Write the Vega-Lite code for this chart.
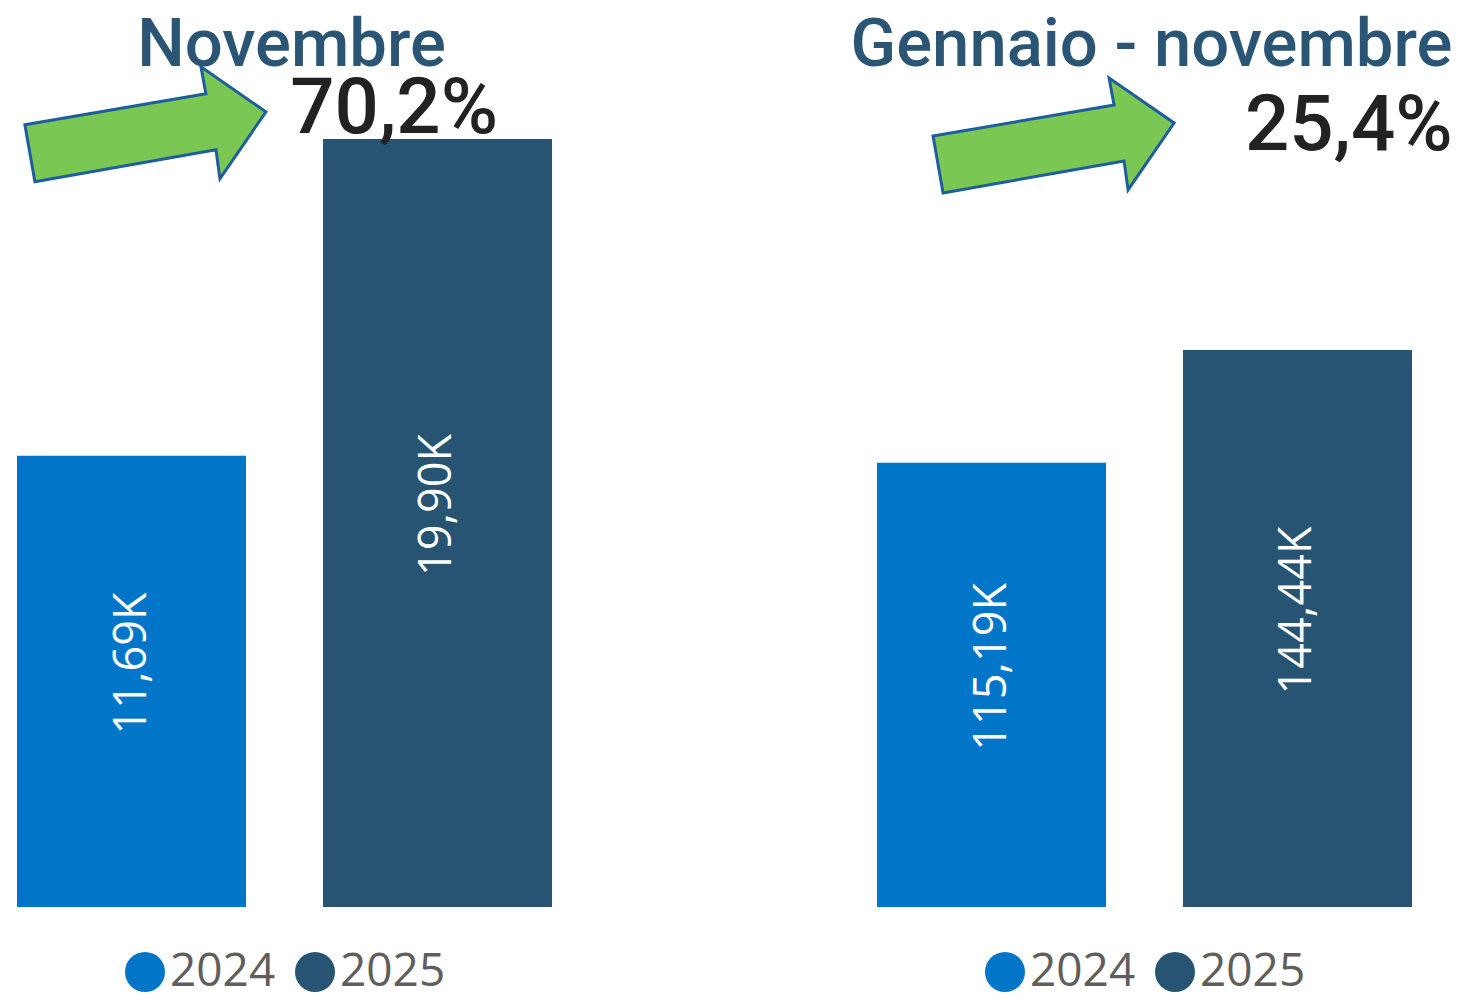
{
  "$schema": "https://vega.github.io/schema/vega-lite/v6.json",
  "autosize": {"type": "pad"},
  "padding": {"left": 17, "top": 12, "right": 0, "bottom": 0},
  "bounds": "flush",
  "spacing": 325,
  "background": "white",
  "config": {
    "view": {"stroke": null},
    "title": {"font": "Roboto", "fontSize": 67, "fontWeight": 500, "color": "#2A5574", "anchor": "middle", "baseline": "alphabetic", "offset": -20, "dx": 7},
    "legend": {
      "orient": "none", "legendX": 105, "legendY": 889, "direction": "horizontal",
      "title": null, "symbolType": "circle", "symbolSize": 1600, "symbolStrokeWidth": 0,
      "labelFont": "Open Sans", "labelFontSize": 46, "labelColor": "#605E5C",
      "labelOffset": 2, "columnPadding": 16, "padding": 0, "symbolOpacity": 1, "labelLimit": 0
    }
  },
  "datasets": {
    "bars": [
      {"periodo": "Novembre", "anno": "2024", "valore": 11.69, "etichetta": "11,69K"},
      {"periodo": "Novembre", "anno": "2025", "valore": 19.90, "etichetta": "19,90K"},
      {"periodo": "Gennaio - novembre", "anno": "2024", "valore": 115.19, "etichetta": "115,19K"},
      {"periodo": "Gennaio - novembre", "anno": "2025", "valore": 144.44, "etichetta": "144,44K"}
    ],
    "note": [
      {"periodo": "Novembre", "variazione": "70,2%", "freccia_x": 0.240, "freccia_y": 20.28, "testo_x": 0.705, "testo_y": 20.06},
      {"periodo": "Gennaio - novembre", "variazione": "25,4%", "freccia_x": 0.330, "freccia_y": 200.07, "testo_x": 0.882, "testo_y": 196.3}
    ]
  },
  "hconcat": [
    {
      "title": "Novembre",
      "width": 535,
      "height": 847,
      "layer": [
        {
          "data": {"name": "bars"},
          "transform": [{"filter": "datum.periodo === 'Novembre'"}],
          "mark": {"type": "bar"},
          "encoding": {
            "x": {"field": "anno", "type": "nominal", "axis": null, "scale": {"type": "band", "paddingInner": 0.2516, "paddingOuter": 0}},
            "y": {"field": "valore", "type": "quantitative", "axis": null, "scale": {"domain": [0, 21.947], "nice": false}},
            "color": {"field": "anno", "type": "nominal", "scale": {"domain": ["2024", "2025"], "range": ["#0176C9", "#275473"]}, "legend": {}}
          }
        },
        {
          "data": {"name": "bars"},
          "transform": [{"filter": "datum.periodo === 'Novembre'"}],
          "mark": {"type": "text", "angle": -90, "align": "center", "baseline": "middle", "dx": 18, "color": "white", "font": "Open Sans", "fontSize": 45},
          "encoding": {
            "x": {"field": "anno", "type": "nominal", "axis": null, "scale": {"type": "band", "paddingInner": 0.2516, "paddingOuter": 0}},
            "y": {"field": "valore", "type": "quantitative", "axis": null, "scale": {"domain": [0, 43.894], "nice": false}},
            "text": {"field": "etichetta", "type": "nominal"}
          }
        },
        {
          "data": {"name": "note"},
          "transform": [{"filter": "datum.periodo === 'Novembre'"}],
          "mark": {"type": "point", "filled": true, "fill": "#7AC753", "stroke": "#1E5E9C", "strokeWidth": 3, "opacity": 1, "size": 58564,
                   "shape": "M -0.996 0.004 L 0.5 -0.252 L 0.459 -0.475 L 0.996 -0.103 L 0.616 0.45 L 0.583 0.211 L -0.913 0.475 Z"},
          "encoding": {
            "x": {"field": "freccia_x", "type": "quantitative", "axis": null, "scale": {"domain": [0, 1], "nice": false, "zero": false}},
            "y": {"field": "freccia_y", "type": "quantitative", "axis": null, "scale": {"domain": [0, 21.947], "nice": false}}
          }
        },
        {
          "data": {"name": "note"},
          "transform": [{"filter": "datum.periodo === 'Novembre'"}],
          "mark": {"type": "text", "align": "center", "baseline": "alphabetic", "font": "Roboto", "fontSize": 78, "fontWeight": 500, "color": "#222222"},
          "encoding": {
            "x": {"field": "testo_x", "type": "quantitative", "axis": null, "scale": {"domain": [0, 1], "nice": false, "zero": false}},
            "y": {"field": "testo_y", "type": "quantitative", "axis": null, "scale": {"domain": [0, 21.947], "nice": false}},
            "text": {"field": "variazione", "type": "nominal"}
          }
        }
      ],
      "resolve": {"scale": {"x": "independent", "y": "independent"}}
    },
    {
      "title": "Gennaio - novembre",
      "width": 535,
      "height": 847,
      "layer": [
        {
          "data": {"name": "bars"},
          "transform": [{"filter": "datum.periodo === 'Gennaio - novembre'"}],
          "mark": {"type": "bar"},
          "encoding": {
            "x": {"field": "anno", "type": "nominal", "axis": null, "scale": {"type": "band", "paddingInner": 0.2516, "paddingOuter": 0}},
            "y": {"field": "valore", "type": "quantitative", "axis": null, "scale": {"domain": [0, 219.64], "nice": false}},
            "color": {"field": "anno", "type": "nominal", "scale": {"domain": ["2024", "2025"], "range": ["#0176C9", "#275473"]}, "legend": {}}
          }
        },
        {
          "data": {"name": "bars"},
          "transform": [{"filter": "datum.periodo === 'Gennaio - novembre'"}],
          "mark": {"type": "text", "angle": -90, "align": "center", "baseline": "middle", "dx": 18, "color": "white", "font": "Open Sans", "fontSize": 45},
          "encoding": {
            "x": {"field": "anno", "type": "nominal", "axis": null, "scale": {"type": "band", "paddingInner": 0.2516, "paddingOuter": 0}},
            "y": {"field": "valore", "type": "quantitative", "axis": null, "scale": {"domain": [0, 439.28], "nice": false}},
            "text": {"field": "etichetta", "type": "nominal"}
          }
        },
        {
          "data": {"name": "note"},
          "transform": [{"filter": "datum.periodo === 'Gennaio - novembre'"}],
          "mark": {"type": "point", "filled": true, "fill": "#7AC753", "stroke": "#1E5E9C", "strokeWidth": 3, "opacity": 1, "size": 58564,
                   "shape": "M -0.996 0.004 L 0.5 -0.252 L 0.459 -0.475 L 0.996 -0.103 L 0.616 0.45 L 0.583 0.211 L -0.913 0.475 Z"},
          "encoding": {
            "x": {"field": "freccia_x", "type": "quantitative", "axis": null, "scale": {"domain": [0, 1], "nice": false, "zero": false}},
            "y": {"field": "freccia_y", "type": "quantitative", "axis": null, "scale": {"domain": [0, 219.64], "nice": false}}
          }
        },
        {
          "data": {"name": "note"},
          "transform": [{"filter": "datum.periodo === 'Gennaio - novembre'"}],
          "mark": {"type": "text", "align": "center", "baseline": "alphabetic", "font": "Roboto", "fontSize": 78, "fontWeight": 500, "color": "#222222"},
          "encoding": {
            "x": {"field": "testo_x", "type": "quantitative", "axis": null, "scale": {"domain": [0, 1], "nice": false, "zero": false}},
            "y": {"field": "testo_y", "type": "quantitative", "axis": null, "scale": {"domain": [0, 219.64], "nice": false}},
            "text": {"field": "variazione", "type": "nominal"}
          }
        }
      ],
      "resolve": {"scale": {"x": "independent", "y": "independent"}}
    }
  ],
  "resolve": {"scale": {"color": "independent"}, "legend": {"color": "independent"}}
}
